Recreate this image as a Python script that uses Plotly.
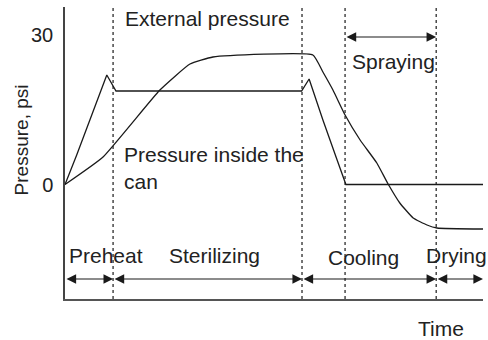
import plotly.graph_objects as go

# Time axis in arbitrary units (0-100); pressure in psi
ext_time = [0, 9.1, 22.7, 29.9, 35.4, 59.3, 61.7, 64.1, 67.0, 70.6, 74.6, 77.3, 80.1, 83.3, 86.6, 89.0, 100]
ext_psi = [0, 5.5, 18.9, 24.1, 25.5, 25.9, 22.5, 18.9, 13.9, 8.9, 4.3, 0.1, -3.7, -6.7, -8.1, -8.7, -8.9]

can_time = [0, 2.8, 10.0, 12.2, 56.6, 58.4, 61.7, 64.1, 65.1, 67.2, 100]
can_psi = [0, 5.9, 21.9, 18.7, 18.7, 21.1, 12.9, 7.5, 4.9, 0, 0]

# Phase boundaries and labels
boundaries = [11.5, 56.7, 67.0, 88.8]
phase_spans = [(0, 11.5), (11.5, 56.7), (56.7, 88.8), (88.8, 100)]
phase_names = ["Preheat", "Sterilizing", "Cooling", "Drying"]
phase_label_x = [9.8, 35.7, 71.3, 93.7]
phase_label_y = [-14.1, -14.1, -14.6, -14.2]
spray_span = (67.0, 88.8)

y_ticks = [0, 30]

FONT = "Liberation Sans, Arial, sans-serif"
TXT = "#222222"
LINE = "#1a1a1a"
FS = 21

fig = go.Figure()
fig.add_trace(go.Scatter(x=ext_time, y=ext_psi, mode="lines",
                         line=dict(color=LINE, width=1.3, shape="spline", smoothing=0.4),
                         showlegend=False))
fig.add_trace(go.Scatter(x=can_time, y=can_psi, mode="lines",
                         line=dict(color=LINE, width=1.3), showlegend=False))

# dotted phase separators
for b in boundaries:
    fig.add_shape(type="line", x0=b, x1=b, y0=0, y1=1, xref="x", yref="paper",
                  line=dict(color=LINE, width=1.2, dash="dot"))

annotations = []
arrow_y = -18.9
for (a, b) in phase_spans:
    annotations.append(dict(x=b, y=arrow_y, ax=a, ay=arrow_y, xref="x", yref="y",
                            axref="x", ayref="y", text="", showarrow=True,
                            arrowside="end+start", arrowhead=2, arrowsize=1.6,
                            arrowwidth=1.2, arrowcolor=LINE, standoff=0, startstandoff=0))
annotations.append(dict(x=spray_span[1], y=29.5, ax=spray_span[0], ay=29.5, xref="x", yref="y",
                        axref="x", ayref="y", text="", showarrow=True,
                        arrowside="end+start", arrowhead=2, arrowsize=1.6,
                        arrowwidth=1.2, arrowcolor=LINE, standoff=0, startstandoff=0))

for name, lx, ly in zip(phase_names, phase_label_x, phase_label_y):
    annotations.append(dict(x=lx, y=ly, xref="x", yref="y", text=name, showarrow=False,
                            xanchor="center", yanchor="middle",
                            font=dict(family=FONT, size=FS, color=TXT)))

annotations.append(dict(x=78.5, y=24.7, xref="x", yref="y", text="Spraying", showarrow=False,
                        xanchor="center", yanchor="middle",
                        font=dict(family=FONT, size=FS, color=TXT)))
annotations.append(dict(x=13.9, y=33.3, xref="x", yref="y", text="External pressure",
                        showarrow=False, xanchor="left", yanchor="middle",
                        font=dict(family=FONT, size=FS, color=TXT)))
annotations.append(dict(x=13.6, y=6.1, xref="x", yref="y", text="Pressure inside the",
                        showarrow=False, xanchor="left", yanchor="middle",
                        font=dict(family=FONT, size=FS, color=TXT)))
annotations.append(dict(x=13.6, y=0.6, xref="x", yref="y", text="can",
                        showarrow=False, xanchor="left", yanchor="middle",
                        font=dict(family=FONT, size=FS, color=TXT)))
annotations.append(dict(x=90, y=-0.101, xref="x", yref="paper", text="Time",
                        showarrow=False, xanchor="center", yanchor="middle",
                        font=dict(family=FONT, size=FS, color=TXT)))
annotations.append(dict(x=-0.104, y=0.545, xref="paper", yref="paper", text="Pressure, psi",
                        showarrow=False, xanchor="center", yanchor="middle", textangle=-90,
                        font=dict(family=FONT, size=FS - 2, color=TXT)))

fig.update_layout(
    width=488, height=340,
    margin=dict(l=65, r=5, t=7, b=41),
    paper_bgcolor="white", plot_bgcolor="white",
    annotations=annotations,
    xaxis=dict(range=[0, 100], showgrid=False, zeroline=False, showline=True,
               linecolor="#555555", linewidth=1.5, showticklabels=False, ticks=""),
    yaxis=dict(range=[-22.9, 35.5], showgrid=False, zeroline=False, showline=True,
               linecolor="#444444", linewidth=1.5, tickvals=y_ticks,
               ticktext=[str(v) for v in y_ticks], ticks="", ticklabelstandoff=6,
               tickfont=dict(family=FONT, size=FS - 1, color=TXT)),
)

fig.write_html("out.html")
